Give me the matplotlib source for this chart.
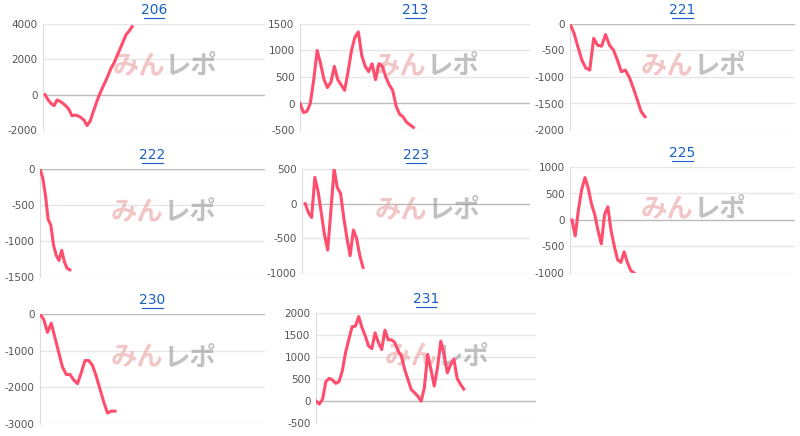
import matplotlib
matplotlib.use("Agg")
import matplotlib.pyplot as plt

titles = ["206", "213", "221", "222", "223", "225", "230", "231"]
s206 = [0,-300,-500,-620,-300,-380,-500,-650,-850,-1200,-1150,-1200,-1300,-1450,-1750,-1500,-1000,-500,-50,350,700,1100,1500,1800,2200,2600,3000,3400,3600,3850]
s213 = [0,-170,-150,0,450,1000,750,450,300,400,700,450,350,250,600,1000,1250,1350,900,700,600,750,450,750,700,500,350,250,-50,-200,-250,-350,-400,-450]
s221 = [0,-170,-430,-680,-830,-870,-270,-400,-420,-200,-400,-490,-680,-900,-870,-1000,-1200,-1420,-1650,-1750]
s222 = [0,-120,-360,-700,-780,-1060,-1200,-1270,-1130,-1290,-1380,-1400]
s223 = [0,-130,-200,380,180,-130,-450,-670,-100,500,230,150,-200,-500,-750,-380,-500,-750,-920]
s225 = [0,-300,200,580,800,600,300,100,-200,-450,100,250,-200,-500,-750,-800,-600,-800,-950,-1000]
s230 = [0,-150,-500,-250,-650,-1050,-1450,-1650,-1650,-1800,-1900,-1600,-1270,-1270,-1400,-1700,-2050,-2400,-2700,-2650,-2650]
s231 = [0,-70,40,440,515,480,400,440,680,1100,1400,1690,1700,1920,1670,1480,1250,1190,1550,1330,1170,1610,1390,1390,1330,1140,1020,720,490,260,190,110,-5,300,1060,720,340,760,1360,1060,640,830,950,510,380,270]
series = [s206, s213, s221, s222, s223, s225, s230, s231]
yticks = [[-2000,0,2000,4000],[-500,0,500,1000,1500],[-2000,-1500,-1000,-500,0],
          [-1500,-1000,-500,0],[-1000,-500,0,500],[-1000,-500,0,500,1000],
          [-3000,-2000,-1000,0],[-500,0,500,1000,1500,2000]]

# pixel layouts: left, right, top, bottom, xmax, x offset
layout = [(43,265,24,130,74,0.7),(300,530,24,130,67,0),(570,795,24,130,57,0),
          (40,265,169,277,83,0),(302,530,169,273,71,1.0),(570,795,167,273,69,0.6),
          (40,265,314,424,60,0),(316,536,313,423,67,0)]

W, H = 800, 436
plt.rcParams['font.family'] = ['DejaVu Sans']
plt.rcParams['axes.unicode_minus'] = False
fig = plt.figure(figsize=(8, 4.36), dpi=100)
for t, s, yt, (l, r, tp, bt, xm, off) in zip(titles, series, yticks, layout):
    ax = fig.add_axes([l/W, 1-bt/H, (r-l)/W, (bt-tp)/H])
    ax.plot([i + off for i in range(len(s))], s, color='#ff4d6d', lw=2.2,
            solid_joinstyle='round', zorder=3)
    ax.set_xlim(0, xm)
    ax.set_ylim(yt[0], yt[-1])
    ax.set_yticks(yt)
    ax.set_xticks([])
    ax.tick_params(axis='y', length=0, labelsize=7.5, labelcolor='#555555', pad=4)
    for y in yt:
        ax.axhline(y, color='#bbbbbb' if y == 0 else '#e6e6e6', lw=1, zorder=1)
    for sp in ['top', 'right', 'bottom']:
        ax.spines[sp].set_visible(False)
    ax.spines['left'].set_color('#dddddd')
    ax.text(0.55, 0.6, "みん", transform=ax.transAxes, fontsize=19, fontweight='bold',
            color='#e8a0a0', alpha=0.6, ha='right', va='center', family=['Noto Sans CJK JP'], zorder=2)
    ax.text(0.55, 0.6, "レポ", transform=ax.transAxes, fontsize=19, fontweight='bold',
            color='#999999', alpha=0.6, ha='left', va='center', family=['Noto Sans CJK JP'], zorder=2)
    cx = (l + r) / 2 / W
    ty = 1 - (tp - 14) / H
    fig.text(cx, ty, t, ha='center', va='center', fontsize=10, color='#1a5fc4')
    fig.add_artist(plt.Line2D([cx - 0.013, cx + 0.013], [ty - 0.019, ty - 0.019],
                              transform=fig.transFigure, color='#1a5fc4', lw=0.8))
fig.savefig("out.png", dpi=100, facecolor='white')
